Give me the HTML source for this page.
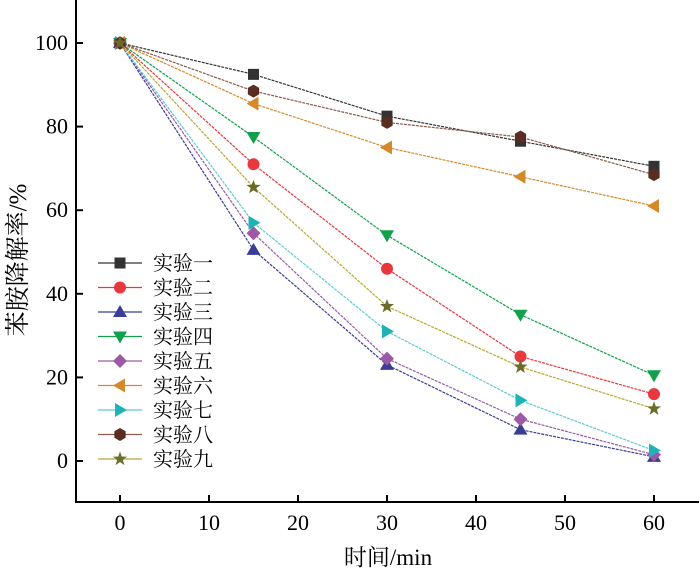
<!DOCTYPE html>
<html><head><meta charset="utf-8"><style>
body{margin:0;background:#fff}
svg{display:block;font-family:"Liberation Serif","Noto Serif CJK SC",serif}
</style></head><body>
<svg id="c" width="700" height="571"></svg>
<script>
const times=[0,15,30,45,60];
const names=["实验一","实验二","实验三","实验四","实验五","实验六","实验七","实验八","实验九"];
const s1=[100,92.5,82.5,76.5,70.5];
const s2=[100,71,46,25,16];
const s3=[100,50.5,23,7.5,1];
const s4=[100,77.5,54,35,20.5];
const s5=[100,54.5,24.5,10,1.5];
const s6=[100,85.5,75,68,61];
const s7=[100,57,31,14.5,2.5];
const s8=[100,88.5,81,77.5,68.5];
const s9=[100,65.5,37,22.5,12.5];
const xTicks=[0,10,20,30,40,50,60];
const yTicks=[0,20,40,60,80,100];
const series=[s1,s2,s3,s4,s5,s6,s7,s8,s9];
const colors=["#333","#e8383d","#3a3d96","#12a04a","#9b59a6","#d58a2a","#1fb3b8","#5a2d22","#6b6b2a"];
const lineCols=["#333","#e8383d","#3a3d96","#12a04a","#9b59a6","#d58a2a","#5ccbd0","#8a5a4a","#b8a830"];
const shapes=["square","circle","tri","tridown","diamond","left","right","hex","star"];
const X=v=>120+v*(654-120)/60, Y=v=>461-v*(461-43)/100;
const svg=document.getElementById('c'), NS="http://www.w3.org/2000/svg";
function el(t,a,p){const e=document.createElementNS(NS,t);for(const k in a)e.setAttribute(k,a[k]);(p||svg).appendChild(e);return e;}
let e=el('line',{x1:76,y1:0,x2:76,y2:502,stroke:'#000','stroke-width':2});

e=el('line',{x1:75,y1:502,x2:699,y2:502,stroke:'#000','stroke-width':2});

xTicks.forEach(t=>{
 e=el('line',{x1:X(t),y1:502,x2:X(t),y2:495,stroke:'#000','stroke-width':2});
 
 e=el('text',{x:X(t),y:530,'text-anchor':'middle','font-size':22});e.textContent=t;
 
});
yTicks.forEach(t=>{
 e=el('line',{x1:76,y1:Y(t),x2:83,y2:Y(t),stroke:'#000','stroke-width':2});
 
 e=el('text',{x:68,y:Y(t)+7,'text-anchor':'end','font-size':22});e.textContent=t;
 
});
e=el('text',{x:388,y:565,'text-anchor':'middle','font-size':23});e.textContent='时间/min';

e=el('text',{x:0,y:0,'text-anchor':'middle','font-size':25,transform:'translate(26,260) rotate(-90)'});e.textContent='苯胺降解率/%';

function marker(sh,x,y,c,g){
 let d;
 if(sh=='square')return el('rect',{x:x-5.5,y:y-5.5,width:11,height:11,fill:c},g);
 if(sh=='circle')return el('circle',{cx:x,cy:y,r:6,fill:c},g);
 if(sh=='tri')d=`M${x},${y-7}L${x+7},${y+5}L${x-7},${y+5}Z`;
 if(sh=='tridown')d=`M${x},${y+7}L${x+7},${y-5}L${x-7},${y-5}Z`;
 if(sh=='diamond')d=`M${x},${y-7}L${x+7},${y}L${x},${y+7}L${x-7},${y}Z`;
 if(sh=='left')d=`M${x-7},${y}L${x+5},${y-7}L${x+5},${y+7}Z`;
 if(sh=='right')d=`M${x+7},${y}L${x-5},${y-7}L${x-5},${y+7}Z`;
 if(sh=='hex'){d='';for(let i=0;i<6;i++){const a=Math.PI/3*i+Math.PI/6;d+=(i?'L':'M')+(x+6.5*Math.cos(a))+','+(y+6.5*Math.sin(a));}d+='Z';}
 if(sh=='star'){d='';for(let i=0;i<10;i++){const a=-Math.PI/2+Math.PI/5*i,rr=i%2?3:7.5;d+=(i?'L':'M')+(x+rr*Math.cos(a))+','+(y+rr*Math.sin(a));}d+='Z';}
 return el('path',{d,fill:c},g);
}
series.forEach((s,i)=>{
 const g=el('g',{});
 
 const pts=s.map((v,j)=>X(times[j])+','+Y(v)).join(' ');
 let l=el('polyline',{points:pts,fill:'none',stroke:lineCols[i],'stroke-width':1.2,'stroke-dasharray':'3,1'},g);
 
 s.forEach((v,j)=>{const m=marker(shapes[i],X(times[j]),Y(v),colors[i],g);
  });
 const ly=263+i*24.5;
 const lg=el('g',{});
 
 el('line',{x1:98,y1:ly,x2:142,y2:ly,stroke:lineCols[i],'stroke-width':1.3},lg);
 marker(shapes[i],120,ly,colors[i],lg);
 const t=el('text',{x:153,y:ly+7,'font-size':20},lg);t.textContent=names[i];
});
</script>
</body></html>
